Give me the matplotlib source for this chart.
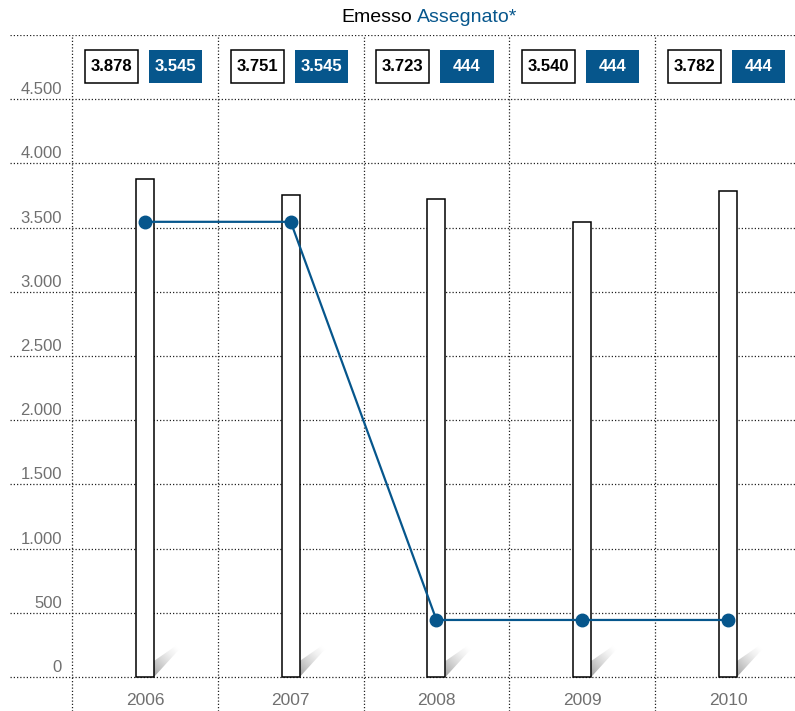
import numpy as np
import matplotlib
matplotlib.use("Agg")
import matplotlib.pyplot as plt
from matplotlib.patches import Rectangle, Polygon

# values
years = ["2006", "2007", "2008", "2009", "2010"]
emesso = [3878, 3751, 3723, 3540, 3782]
assegnato = [3545, 3545, 444, 444, 444]
emesso_labels = ["3.878", "3.751", "3.723", "3.540", "3.782"]
assegnato_labels = ["3.545", "3.545", "444", "444", "444"]
yticks = [0, 500, 1000, 1500, 2000, 2500, 3000, 3500, 4000, 4500]
ytick_labels = ["0", "500", "1.000", "1.500", "2.000", "2.500", "3.000", "3.500", "4.000", "4.500"]

BLUE = "#06568c"
GRAY = "#707070"
plt.rcParams["font.family"] = ["Liberation Sans", "DejaVu Sans"]

W, H = 795, 711
fig = plt.figure(figsize=(W / 100, H / 100), dpi=100)
ax = fig.add_axes([10 / W, 0, 785 / W, 676 / H])
ax.set_xlim(-0.926, 4.46)
ax.set_ylim(-265, 5000)
ax.axis("off")

px_x = 1 / 145.6        # data units per pixel, x
px_y = 5000 / 642.0     # data units per pixel, y

dots = dict(color="#222222", linestyle=(0, (1, 1.6)), linewidth=0.9, zorder=1)
for v in yticks + [5000]:
    ax.hlines(v, -0.926, 4.46, **dots)
for b in np.arange(-0.5, 4.0, 1.0):
    ax.vlines(b, -265, 5000, **dots)

# y labels sit just above their gridline
for v, lab in zip(yticks, ytick_labels):
    ax.text(-0.5 - 10 * px_x, v + 2 * px_y, lab, ha="right", va="bottom",
            fontsize=12, color=GRAY)

x = np.arange(len(years))
bw = 18 * px_x

# diagonal shadow under each bar, fading towards the tip
yy, xx = np.mgrid[0:1:64j, 0:1:64j]
grad = np.clip((xx + yy) / 1.6, 0, 1)
for xi in x:
    x0 = xi + bw / 2
    poly = Polygon([(x0, 0), (x0, 16 * px_y), (x0 + 26 * px_x, 34 * px_y),
                    (x0 + 31 * px_x, 34 * px_y)], closed=True,
                   facecolor="none", edgecolor="none")
    ax.add_patch(poly)
    im = ax.imshow(grad, cmap="Greys_r", vmin=-1.1, vmax=1.0, aspect="auto",
                   origin="lower", extent=(x0, x0 + 31 * px_x, 0, 34 * px_y),
                   interpolation="bilinear", zorder=2)
    im.set_clip_path(poly)

ax.bar(x, emesso, width=bw, color="white", edgecolor="black", linewidth=1.1, zorder=3)
ax.set_xlim(-0.926, 4.46)
ax.set_ylim(-265, 5000)

ax.plot(x, assegnato, color=BLUE, linewidth=1.6, marker="o", markersize=9, zorder=4)

for xi, yr in zip(x, years):
    ax.text(xi, -180, yr, ha="center", va="center", fontsize=12.5, color=GRAY)

# value boxes along the top
by0, by1 = 4626, 4883
bwid = 53 * px_x
for xi, le, la in zip(x, emesso_labels, assegnato_labels):
    xa = xi - 60 * px_x
    ax.add_patch(Rectangle((xa, by0), bwid, by1 - by0, facecolor="white",
                           edgecolor="black", linewidth=1.1, zorder=3))
    ax.text(xa + bwid / 2, (by0 + by1) / 2, le, ha="center", va="center",
            fontsize=12, fontweight="bold", color="black", zorder=4)
    xb = xi + 4 * px_x
    ax.add_patch(Rectangle((xb, by0), bwid, by1 - by0, facecolor=BLUE,
                           edgecolor="none", zorder=3))
    ax.text(xb + bwid / 2, (by0 + by1) / 2, la, ha="center", va="center",
            fontsize=12, fontweight="bold", color="white", zorder=4)

fig.text(341 / W, 1 - 17 / H, "Emesso", ha="left", va="center", fontsize=14, color="black")
fig.text(417 / W, 1 - 17 / H, "Assegnato*", ha="left", va="center", fontsize=14, color=BLUE)

fig.savefig("out.png", dpi=100)
